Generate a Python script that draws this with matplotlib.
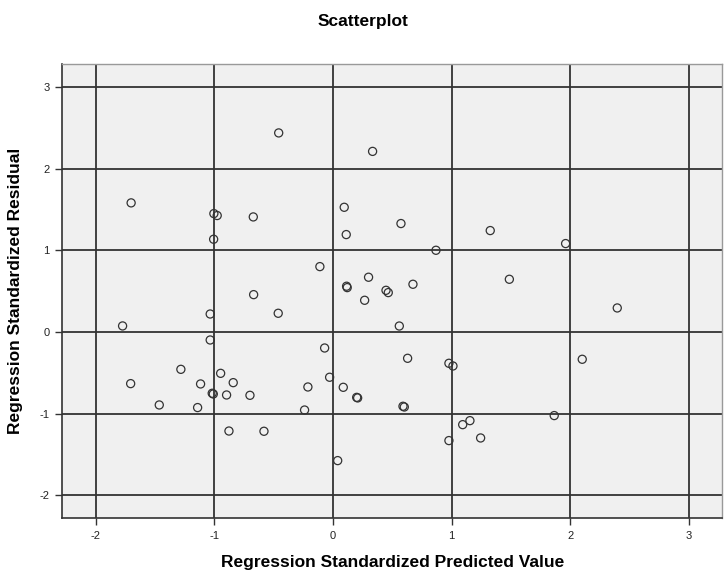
import matplotlib
matplotlib.use("Agg")
import matplotlib.pyplot as plt
import numpy as np

# standardized predicted value (x) and standardized residual (y)
pred = [-0.457, 0.334, -1.70, -1.003, -0.975, -0.671, -1.005, 0.095, 0.112, -0.110,
        0.30, 0.115, 0.12, 0.573, 1.325, 1.960, 0.868, 1.486, 0.674, 0.447,
        0.466, -0.668, 0.267, -1.034, -0.461, -1.772, -1.034, -0.070, -1.281, -0.946,
        -0.028, -1.704, -1.115, -0.840, -0.211, 0.087, -1.017, -1.008, -0.896, -0.699,
        0.200, 0.208, -1.463, -1.140, -0.239, -0.876, -0.581, 0.040, 2.395, 0.559,
        0.629, 0.977, 1.011, 2.100, 0.590, 0.601, 1.864, 1.154, 1.093, 1.244, 0.977]
resid = [2.436, 2.21, 1.58, 1.449, 1.425, 1.408, 1.135, 1.526, 1.192, 0.80,
         0.67, 0.56, 0.543, 1.327, 1.241, 1.082, 1.0, 0.645, 0.584, 0.51,
         0.482, 0.457, 0.388, 0.22, 0.229, 0.074, -0.098, -0.196, -0.457, -0.506,
         -0.554, -0.632, -0.636, -0.620, -0.673, -0.677, -0.750, -0.759, -0.771, -0.775,
         -0.800, -0.807, -0.893, -0.925, -0.955, -1.212, -1.215, -1.574, 0.294, 0.073,
         -0.322, -0.383, -0.416, -0.334, -0.909, -0.918, -1.023, -1.085, -1.134, -1.297, -1.329]

xticks = [-2, -1, 0, 1, 2, 3]
yticks = [-2, -1, 0, 1, 2, 3]

plt.rcParams["font.family"] = ["Liberation Sans", "DejaVu Sans"]
plt.rcParams["axes.unicode_minus"] = False

fig = plt.figure(figsize=(7.25, 5.71), dpi=100)
ax = fig.add_axes([0.0859, 0.0923, 0.9104, 0.7957])
ax.set_facecolor("#f0f0f0")

ax.scatter(pred, resid, s=34, facecolors="none", edgecolors="#333333",
           linewidths=0.9, zorder=3)

ax.set_xlim(-2.28, 3.28)
ax.set_ylim(-2.28, 3.28)
ax.set_xticks(xticks)
ax.set_yticks(yticks)
ax.grid(True, color="#333333", linewidth=1.3, zorder=1)
ax.set_axisbelow(True)

for side in ["left", "bottom"]:
    ax.spines[side].set_color("#333333")
    ax.spines[side].set_linewidth(1.2)
for side in ["top", "right"]:
    ax.spines[side].set_color("#999999")
    ax.spines[side].set_linewidth(1.0)

ax.tick_params(direction="out", length=5, width=1, color="#333333",
               labelsize=8, labelcolor="#222222", pad=4)

ax.set_xlabel("Regression Standardized Predicted Value", fontsize=12.5,
              fontweight="bold", labelpad=10)
ax.set_ylabel("Regression Standardized Residual", fontsize=12.5,
              fontweight="bold", labelpad=12)
fig.text(0.5, 0.963, "Scatterplot", ha="center", va="center",
         fontsize=12.5, fontweight="bold")

fig.savefig("out.png", dpi=100)
